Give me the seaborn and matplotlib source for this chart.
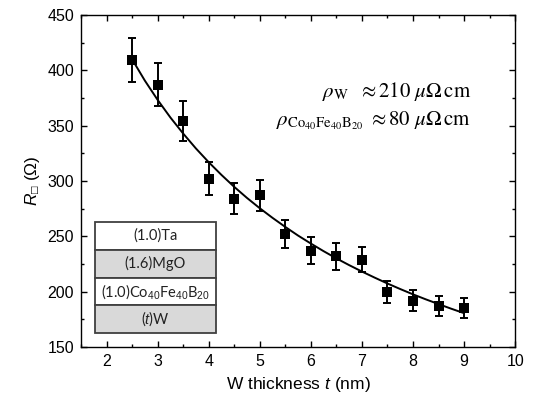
import matplotlib
matplotlib.use('Agg')
import matplotlib.pyplot as plt
import seaborn as sns
import pandas as pd
from matplotlib.patches import Rectangle
from matplotlib.ticker import MultipleLocator

# Data
thickness = [2.5, 3.0, 3.5, 4.0, 4.5, 5.0, 5.5, 6.0, 6.5, 7.0, 7.5, 8.0, 8.5, 9.0]
r_sheet = [409, 387, 354, 302, 284, 287, 252, 237, 232, 229, 200, 192, 187, 185]
r_err = [20, 19.5, 18, 15, 14, 14, 12.5, 12, 12, 11.5, 10, 9.5, 9, 9]

# Fitted curve
fit_t = [2.5, 2.75, 3.0, 3.25, 3.5, 3.75, 4.0, 4.25, 4.5, 4.75, 5.0, 5.25, 5.5,
         5.75, 6.0, 6.25, 6.5, 6.75, 7.0, 7.25, 7.5, 7.75, 8.0, 8.25, 8.5,
         8.75, 9.0]
fit_r = [410.0, 390.7, 373.3, 357.4, 342.9, 329.4, 317.0, 305.5, 294.7, 284.7,
         275.4, 266.7, 258.5, 250.7, 243.5, 236.6, 230.1, 224.0, 218.2, 212.7,
         207.4, 202.4, 197.6, 193.1, 188.8, 184.6, 180.6]

stack_labels = ['(1.0)Ta', '(1.6)MgO', r'(1.0)Co$_{40}$Fe$_{40}$B$_{20}$', r'($t$)W']
stack_colors = ['white', '#d9d9d9', 'white', '#d9d9d9']

sns.set_theme(style='ticks')
plt.rcParams['font.family'] = ['Liberation Sans', 'DejaVu Sans']
plt.rcParams['mathtext.fontset'] = 'custom'
plt.rcParams['mathtext.rm'] = 'Liberation Sans'
plt.rcParams['mathtext.it'] = 'Liberation Sans:italic'
plt.rcParams['mathtext.bf'] = 'Liberation Sans:bold'

fig = plt.figure(figsize=(5.41, 4.04), dpi=100)
ax = fig.add_axes([0.1497, 0.141, 0.8025, 0.822])

fit_df = pd.DataFrame({'t': fit_t, 'R': fit_r})
sns.lineplot(data=fit_df, x='t', y='R', ax=ax, color='black', linewidth=1.4)

ax.errorbar(thickness, r_sheet, yerr=r_err, fmt='none', ecolor='black',
            elinewidth=1.4, capsize=3.2, capthick=1.4, zorder=3)
sns.scatterplot(x=thickness, y=r_sheet, ax=ax, marker='s', s=42, color='black',
                edgecolor='black', linewidth=0, zorder=4)

ax.set_xlim(1.5, 10)
ax.set_ylim(150, 450)
ax.xaxis.set_major_locator(MultipleLocator(1))
ax.xaxis.set_minor_locator(MultipleLocator(0.5))
ax.yaxis.set_major_locator(MultipleLocator(50))
ax.yaxis.set_minor_locator(MultipleLocator(25))
ax.tick_params(which='both', direction='in', top=True, right=True, color='black',
               width=1.0, labelsize=11.5, labelcolor='black')
ax.tick_params(which='major', length=4.5, pad=5)
ax.tick_params(which='minor', length=2.5)
for s in ax.spines.values():
    s.set_color('black')
    s.set_linewidth(1.0)

ax.set_xlabel(r'W thickness $t$ (nm)', fontsize=12.5, color='black', labelpad=4)
ax.set_ylabel(r'$R_{□}$ (Ω)', fontsize=12.5, color='black', labelpad=4)

# annotation with resistivities
ax.text(9.14, 376, r'$\rho_{\mathrm{W}}\ \ \approx 210\ \mu\mathit{\Omega}\,\mathrm{cm}$',
        ha='right', va='baseline', fontsize=15, math_fontfamily='stix', color='black')
ax.text(9.14, 350, r'$\rho_{\mathrm{Co_{40}Fe_{40}B_{20}}}\ \approx 80\ \mu\mathit{\Omega}\,\mathrm{cm}$',
        ha='right', va='baseline', fontsize=15, math_fontfamily='stix', color='black')

# layer stack inset
x0, x1 = 0.032, 0.311
top = 0.3765
row_h = 0.0836
for i, (lab, col) in enumerate(zip(stack_labels, stack_colors)):
    yb = top - (i + 1) * row_h
    ax.add_patch(Rectangle((x0, yb), x1 - x0, row_h, transform=ax.transAxes,
                           facecolor=col, edgecolor='#404040', linewidth=1.3,
                           zorder=5))
    ax.text((x0 + x1) / 2, yb + row_h / 2, lab, transform=ax.transAxes,
            ha='center', va='center', fontsize=10.5, color='#222222',
            family=['Lato', 'DejaVu Sans'], math_fontfamily='custom', zorder=6)

fig.savefig('out.png', dpi=100)
